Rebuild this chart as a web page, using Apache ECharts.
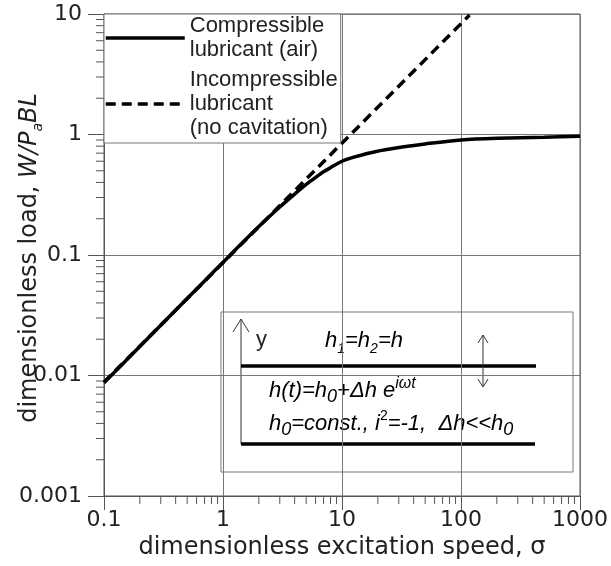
<!DOCTYPE html>
<html>
<head>
<meta charset="utf-8">
<script src="https://cdn.jsdelivr.net/npm/echarts@6/dist/echarts.min.js"></script>
<style>
html, body { margin: 0; padding: 0; background: #fff; }
#chart { width: 611px; height: 566px; }
</style>
</head>
<body>
<div id="chart"></div>
<script>
// curve (log-log)
const sigmaComp = [0.1, 0.2, 0.5, 1, 2, 3, 4, 5, 6, 7, 8, 10, 13, 19, 33, 50, 100, 200, 500, 1000];
const loadComp = [0.0087, 0.0174, 0.0435, 0.087, 0.172, 0.25, 0.32, 0.385, 0.44, 0.49, 0.53, 0.6, 0.655, 0.72, 0.79, 0.835, 0.9, 0.93, 0.95, 0.965];
const sigmaIncomp = [0.1, 118];
const loadIncomp = [0.0088, 9.8];

const seriesNames = ['Compressible\nlubricant (air)', 'Incompressible\nlubricant\n(no cavitation)'];

const xMinor = [0.2, 0.3, 0.4, 0.5, 0.6, 0.7, 0.8, 0.9, 2, 3, 4, 5, 6, 7, 8, 9,
    20, 30, 40, 50, 60, 70, 80, 90, 200, 300, 400, 500, 600, 700, 800, 900];
const yMinor = [0.002, 0.003, 0.004, 0.005, 0.006, 0.007, 0.008, 0.009,
    0.02, 0.03, 0.04, 0.05, 0.06, 0.07, 0.08, 0.09,
    0.2, 0.3, 0.4, 0.5, 0.6, 0.7, 0.8, 0.9, 2, 3, 4, 5, 6, 7, 8, 9];

const xMin = 0.1, xMax = 1000, yMin = 0.001, yMax = 10;

const FONT = 'Liberation Sans, Arial, sans-serif';
const WIDE = 'DejaVu Sans, sans-serif';
const ink = '#222';
const axisGray = '#555';

const myChart = echarts.init(document.getElementById('chart'));

function pairs(xs, ys) {
    return xs.map((x, i) => [x, ys[i]]);
}

// minor ticks hang outside the axes, placed through the axis scales
function minorTickX(params, api) {
    const p = api.coord([api.value(0), yMin]);
    return { type: 'line', shape: { x1: p[0], y1: p[1], x2: p[0], y2: p[1] + 8 },
             style: { stroke: axisGray, lineWidth: 1 } };
}
function minorTickY(params, api) {
    const p = api.coord([xMin, api.value(1)]);
    return { type: 'line', shape: { x1: p[0], y1: p[1], x2: p[0] - 8, y2: p[1] },
             style: { stroke: axisGray, lineWidth: 1 } };
}

const it = { fontFamily: FONT, fontStyle: 'italic', fontSize: 22, color: ink, lineHeight: 30 };
const sub = { fontFamily: FONT, fontStyle: 'italic', fontSize: 14, color: ink, lineHeight: 14, verticalAlign: 'bottom' };
const sup = { fontFamily: FONT, fontStyle: 'italic', fontSize: 16, color: ink, lineHeight: 16, verticalAlign: 'top' };

const option = {
    backgroundColor: '#fff',
    animation: false,
    grid: {
        left: 104, right: 22, top: 14, bottom: 70,
        show: true, borderColor: axisGray, borderWidth: 1
    },
    legend: {
        data: seriesNames,
        orient: 'vertical',
        left: 104, top: 14,
        itemWidth: 79, itemHeight: 16, itemGap: 6,
        padding: [0, 3, 3, 0],
        backgroundColor: '#fff',
        borderColor: '#777', borderWidth: 1,
        selectedMode: false,
        itemStyle: { opacity: 0 },
        lineStyle: { width: 3.5 },
        textStyle: { fontFamily: FONT, fontSize: 22, lineHeight: 24, color: ink }
    },
    xAxis: {
        type: 'log', logBase: 10, min: xMin, max: xMax,
        name: 'dimensionless excitation speed, \u03c3',
        nameLocation: 'middle', nameGap: 32,
        nameTextStyle: { fontFamily: WIDE, fontSize: 24, color: ink },
        axisLine: { lineStyle: { color: axisGray } },
        axisTick: { length: 14, lineStyle: { color: axisGray } },
        axisLabel: { margin: 13, fontFamily: WIDE, fontSize: 22, color: ink, formatter: v => String(v) },
        splitLine: { show: true, lineStyle: { color: '#777', width: 1 } }
    },
    yAxis: {
        type: 'log', logBase: 10, min: yMin, max: yMax,
        axisLine: { lineStyle: { color: axisGray } },
        axisTick: { length: 16, lineStyle: { color: axisGray } },
        axisLabel: { margin: 22, fontFamily: WIDE, fontSize: 22, color: ink, formatter: v => String(v) },
        splitLine: { show: true, lineStyle: { color: '#777', width: 1 } }
    },
    series: [{
        name: seriesNames[0],
        type: 'line',
        data: pairs(sigmaComp, loadComp),
        symbol: 'none',
        smooth: 0.3,
        lineStyle: { color: '#000', width: 3.5 },
        itemStyle: { color: '#000' },
        z: 3
    }, {
        name: seriesNames[1],
        type: 'line',
        data: pairs(sigmaIncomp, loadIncomp),
        symbol: 'none',
        lineStyle: { color: '#000', width: 3.5, type: [10, 6] },
        itemStyle: { color: '#000' },
        z: 2
    }, {
        type: 'custom',
        data: xMinor.map(v => [v, yMin]),
        renderItem: minorTickX,
        clip: false, silent: true
    }, {
        type: 'custom',
        data: yMinor.map(v => [xMin, v]),
        renderItem: minorTickY,
        clip: false, silent: true
    }],
    graphic: [
        {
            type: 'text', x: 30, y: 258, rotation: Math.PI / 2,
            style: {
                text: 'dimensionless load, {i|W/P}{s|a}{i|BL}',
                fontFamily: WIDE, fontSize: 24, fill: ink,
                align: 'center', verticalAlign: 'middle',
                rich: {
                    i: { fontFamily: WIDE, fontStyle: 'italic', fontSize: 24, color: ink, lineHeight: 30 },
                    s: { fontFamily: WIDE, fontStyle: 'italic', fontSize: 14, color: ink, lineHeight: 14, verticalAlign: 'bottom' }
                }
            }
        },
        // inset sketch of the squeeze film
        {
            type: 'group', z: 100,
            children: [
                { type: 'rect', shape: { x: 221, y: 312, width: 352, height: 160 },
                  style: { fill: '#fff', stroke: '#777', lineWidth: 1 } },
                { type: 'line', shape: { x1: 241, y1: 319, x2: 241, y2: 444 },
                  style: { stroke: '#333', lineWidth: 1 } },
                { type: 'polyline', shape: { points: [[233, 332], [241, 319], [249, 332]] },
                  style: { stroke: '#333', lineWidth: 1, fill: null } },
                { type: 'line', shape: { x1: 241, y1: 366, x2: 536, y2: 366 },
                  style: { stroke: '#000', lineWidth: 3.5 } },
                { type: 'line', shape: { x1: 241, y1: 444, x2: 535, y2: 444 },
                  style: { stroke: '#000', lineWidth: 3.5 } },
                { type: 'line', shape: { x1: 483, y1: 335, x2: 483, y2: 387 },
                  style: { stroke: '#333', lineWidth: 1 } },
                { type: 'polyline', shape: { points: [[478, 343], [483, 335], [488, 343]] },
                  style: { stroke: '#333', lineWidth: 1, fill: null } },
                { type: 'polyline', shape: { points: [[478, 379], [483, 387], [488, 379]] },
                  style: { stroke: '#333', lineWidth: 1, fill: null } },
                { type: 'text', x: 256, y: 340,
                  style: { text: 'y', fontFamily: FONT, fontSize: 22, fill: ink, verticalAlign: 'middle' } },
                { type: 'text', x: 325, y: 341,
                  style: { text: '{i|h}{s|1}{i|=h}{s|2}{i|=h}', verticalAlign: 'middle', rich: { i: it, s: sub } } },
                { type: 'text', x: 269, y: 391,
                  style: { text: '{i|h(t)=h}{s|0}{i|+\u0394h e}{p|i\u03c9t}', verticalAlign: 'middle',
                           rich: { i: it, s: Object.assign({}, sub, { fontSize: 18, lineHeight: 18 }), p: sup } } },
                { type: 'text', x: 269, y: 424,
                  style: { text: '{i|h}{s|0}{i|=const., i}{p|2}{i|=-1,  \u0394h<<h}{s|0}', verticalAlign: 'middle',
                           rich: { i: it, s: Object.assign({}, sub, { fontSize: 18, lineHeight: 18 }), p: Object.assign({}, sup, { fontSize: 14, lineHeight: 14, fontStyle: 'normal' }) } } }
            ]
        }
    ]
};

myChart.setOption(option);
</script>
</body>
</html>
